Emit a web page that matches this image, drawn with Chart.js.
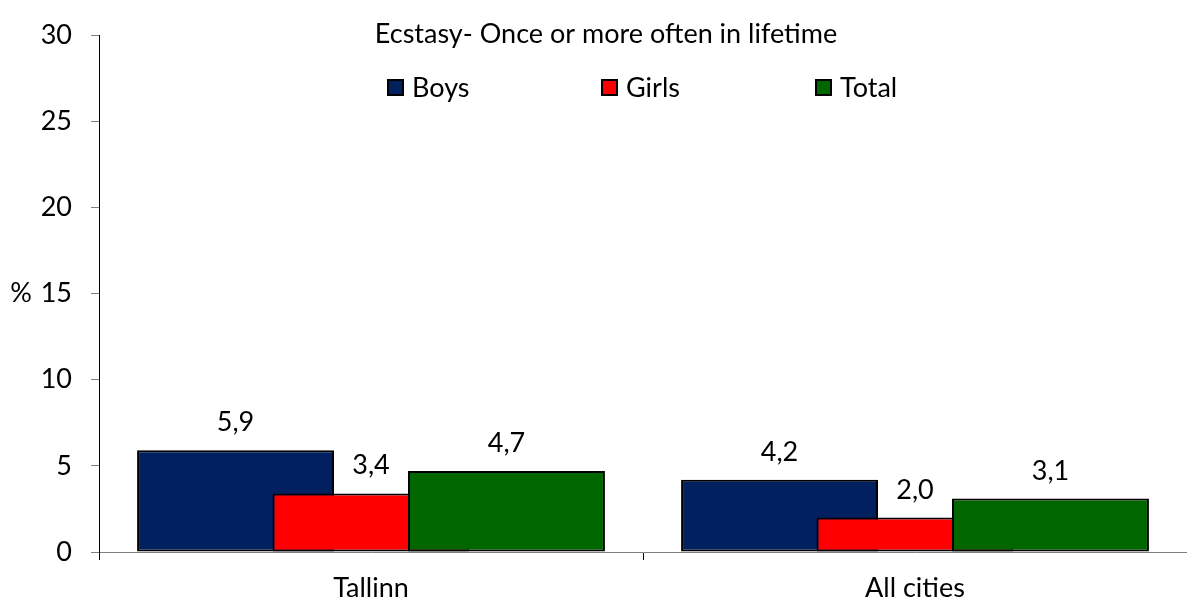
<!DOCTYPE html>
<html lang="en">

<head>
    <meta charset="UTF-8">
    <title>Ecstasy - Once or more often in lifetime</title>
    <style>
        html,
        body {
            margin: 0;
            padding: 0;
            background: #ffffff;
        }

        #wrap {
            width: 1187px;
            height: 607px;
        }
    </style>
    <script src="https://cdn.jsdelivr.net/npm/chart.js"></script>
</head>

<body>
    <div id="wrap"><canvas id="chart"></canvas></div>

    <script>
        const chartTitle = "Ecstasy- Once or more often in lifetime";
        const categories = ["Tallinn", "All cities"];
        const seriesNames = ["Boys", "Girls", "Total"];
        const boys = [5.9, 4.2];
        const girls = [3.4, 2.0];
        const total = [4.7, 3.1];
        const yTicks = [0, 5, 10, 15, 20, 25, 30];
        const yUnit = "%";

        const colors = ["#002060", "#FF0000", "#006600"];
        const fontFamily = "Lato, 'Open Sans', sans-serif";
        const fontSize = 27;

        Chart.defaults.font.family = fontFamily;
        Chart.defaults.font.size = fontSize;
        Chart.defaults.color = "#000000";

        // Excel-style overlap: later series must sit on top of earlier ones,
        // Chart.js draws the first dataset last, so draw them here in index order
        const overlapOrderPlugin = {
            id: "overlapOrder",
            beforeDatasetsDraw(chart) {
                const metas = chart.getSortedVisibleDatasetMetas();
                metas.forEach(m => m.controller.draw());
                return false;
            }
        };

        // labels above bars, inner title, legend and the "%" sign
        const extrasPlugin = {
            id: "extras",
            afterDraw(chart) {
                const ctx = chart.ctx;
                ctx.save();
                ctx.font = fontSize + "px " + fontFamily;
                ctx.fillStyle = "#000000";
                ctx.textAlign = "center";
                ctx.textBaseline = "alphabetic";

                // value labels
                chart.data.datasets.forEach((ds, di) => {
                    const meta = chart.getDatasetMeta(di);
                    meta.data.forEach((bar, i) => {
                        const txt = ds.data[i].toFixed(1).replace(".", ",");
                        ctx.fillText(txt, bar.x, bar.y - 19);
                    });
                });

                // title
                ctx.fillText(chartTitle, 606, 43);

                // legend
                ctx.textAlign = "left";
                chart.data.datasets.forEach((ds, di) => {
                    const x = 387 + di * 214;
                    ctx.fillStyle = ds.backgroundColor;
                    ctx.fillRect(x, 79, 17, 17);
                    ctx.strokeStyle = "#000000";
                    ctx.lineWidth = 2;
                    ctx.strokeRect(x + 1, 80, 15, 15);
                    ctx.fillStyle = "#000000";
                    ctx.fillText(ds.label, x + 25, 97);
                });

                // unit sign next to the y axis
                const y = chart.scales.y.getPixelForValue(15);
                ctx.textAlign = "center";
                ctx.textBaseline = "middle";
                ctx.fillText(yUnit, 21, y);
                ctx.restore();
            }
        };

        const seriesData = [boys, girls, total];

        new Chart(document.getElementById("chart"), {
            type: "bar",
            data: {
                labels: categories,
                datasets: seriesNames.map((name, i) => ({
                    label: name,
                    data: seriesData[i],
                    backgroundColor: colors[i],
                    borderColor: "#000000",
                    borderWidth: 2,
                    borderSkipped: false,
                    categoryPercentage: 0.747,
                    barPercentage: 1.454
                }))
            },
            options: {
                responsive: true,
                maintainAspectRatio: false,
                animation: false,
                layout: {
                    padding: { top: 19, right: 0, bottom: 0, left: 0 }
                },
                plugins: {
                    legend: { display: false },
                    title: { display: false },
                    tooltip: { enabled: false }
                },
                scales: {
                    x: {
                        afterFit: (scale) => { scale.height = 55; },
                        border: { color: "#808080", width: 1 },
                        grid: {
                            offset: true,
                            drawOnChartArea: false,
                            tickLength: 8,
                            tickColor: "#000000"
                        },
                        ticks: {
                            padding: 12,
                            color: "#000000",
                            font: { size: fontSize }
                        }
                    },
                    y: {
                        min: 0,
                        max: 30,
                        afterFit: (scale) => { scale.width = 99; },
                        afterBuildTicks: (scale) => {
                            scale.ticks = yTicks.map(v => ({ value: v }));
                        },
                        border: { color: "#000000", width: 1 },
                        grid: {
                            drawOnChartArea: false,
                            tickLength: 8,
                            tickColor: "#808080"
                        },
                        ticks: {
                            padding: 19,
                            color: "#000000",
                            font: { size: fontSize }
                        }
                    }
                }
            },
            plugins: [overlapOrderPlugin, extrasPlugin]
        });
    </script>
</body>

</html>
